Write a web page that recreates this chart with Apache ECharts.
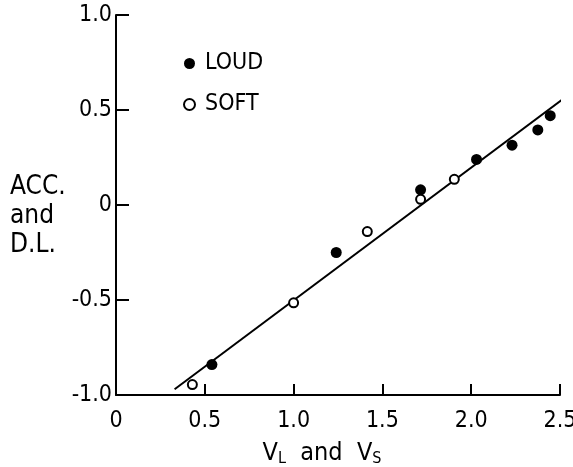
<!DOCTYPE html>
<html>
<head>
<meta charset="utf-8">
<script src="https://cdn.jsdelivr.net/npm/echarts@6/dist/echarts.min.js"></script>
<style>html,body{margin:0;padding:0;background:#fff}#c{width:573px;height:467px}</style>
</head>
<body>
<div id="c"></div>
<script>
const loudX = [0.54, 1.24, 1.715, 2.03, 2.23, 2.375, 2.445];
const loudY = [-0.84, -0.25, 0.08, 0.24, 0.315, 0.395, 0.47];
const softX = [0.43, 1.0, 1.415, 1.715, 1.905];
const softY = [-0.945, -0.515, -0.14, 0.03, 0.135];
const fitX = [0.33, 2.535];
const fitY = [-0.97, 0.57];
const xTicks = ['0', '0.5', '1.0', '1.5', '2.0', '2.5'];
const yTicks = ['-1.0', '-0.5', '0', '0.5', '1.0'];
const yTitle = 'ACC.\nand\nD.L.';

const F = '"Liberation Sans Narrow", "DejaVu Sans Condensed", sans-serif';
const zip = (a, b) => a.map((v, i) => [v, b[i]]);
const chart = echarts.init(document.getElementById('c'));
chart.setOption({
  animation: false,
  backgroundColor: '#fff',
  grid: { left: 116, right: 13, top: 15, bottom: 72, containLabel: false, outerBoundsMode: 'none' },
  graphic: [{
    type: 'text', left: 10, top: 173,
    style: { text: yTitle, fontFamily: F, fontSize: 26, fill: '#000', lineHeight: 29 }
  }],
  legend: {
    orient: 'vertical', left: 178, top: 47, padding: 5, itemWidth: 11, itemHeight: 11,
    itemGap: 18, itemTextGap: 10,
    textStyle: { fontFamily: F, fontSize: 23, color: '#000', padding: [0, 0, 0, 5] },
    data: [
      { name: 'LOUD', icon: 'circle', itemStyle: { color: '#000', borderWidth: 0, opacity: 1 } },
      { name: 'SOFT', icon: 'circle', itemStyle: { color: '#fff', borderColor: '#000', borderWidth: 2, opacity: 1 } }
    ]
  },
  xAxis: {
    type: 'value', min: 0, max: 2.5, interval: 0.5,
    splitLine: { show: false },
    axisLine: { onZero: false, lineStyle: { color: '#000', width: 2 } },
    axisTick: { inside: true, length: 11, lineStyle: { color: '#000', width: 2 } },
    axisLabel: { margin: 15, fontFamily: F, fontSize: 23, color: '#000',
      formatter: (v) => xTicks[Math.round(v / 0.5)] },
    name: '{a|V}{s|L}{a|  and  V}{s|S}', nameLocation: 'middle', nameGap: 46,
    nameTextStyle: {
      padding: [0, 32, 0, 0],
      rich: {
        a: { fontFamily: F, fontSize: 25, color: '#000', verticalAlign: 'top', lineHeight: 26 },
        s: { fontFamily: F, fontSize: 16, color: '#000', verticalAlign: 'bottom', lineHeight: 26 }
      }
    }
  },
  yAxis: {
    type: 'value', min: -1, max: 1, interval: 0.5,
    splitLine: { show: false },
    axisLine: { lineStyle: { color: '#000', width: 2 } },
    axisTick: { inside: true, length: 13, lineStyle: { color: '#000', width: 2 } },
    axisLabel: { margin: 4, fontFamily: F, fontSize: 23, color: '#000',
      formatter: (v) => yTicks[Math.round((v + 1) / 0.5)] }
  },
  series: [
    { name: 'fit', type: 'line', data: zip(fitX, fitY), symbol: 'none',
      lineStyle: { color: '#000', width: 2 }, silent: true, z: 1 },
    { name: 'LOUD', type: 'scatter', data: zip(loudX, loudY), symbol: 'circle', symbolSize: 11,
      itemStyle: { color: '#000', opacity: 1 }, z: 3 },
    { name: 'SOFT', type: 'scatter', data: zip(softX, softY), symbol: 'circle', symbolSize: 9,
      itemStyle: { color: '#fff', borderColor: '#000', borderWidth: 2, opacity: 1 }, z: 4 }
  ]
});
</script>
</body>
</html>
